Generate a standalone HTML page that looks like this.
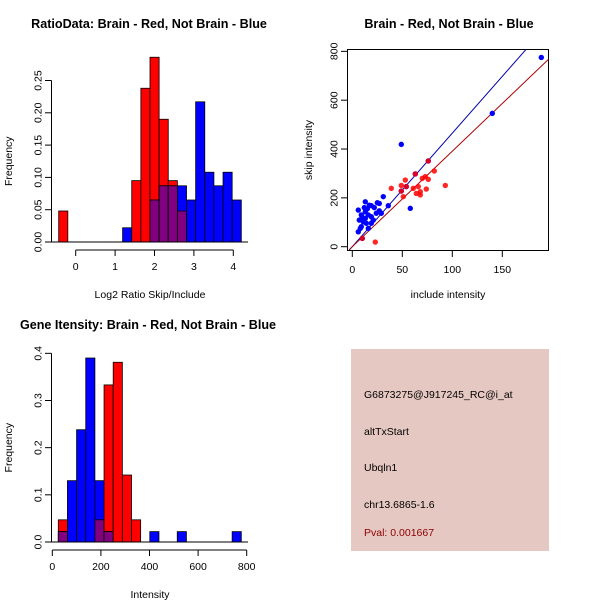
<!DOCTYPE html>
<html><head><meta charset="utf-8"><style>
body{margin:0;background:#fff}
svg{display:block;font-family:"Liberation Sans",Arial,sans-serif}
text{font-size:10.5px;fill:#000}
.t{font-weight:bold;font-size:12.6px}
</style></head><body>
<svg id="s" width="600" height="600">
<rect x="351" y="349" width="198" height="202" fill="#e6c8c2"/>
<text x="364" y="398">G6873275@J917245_RC@i_at</text>
<text x="364" y="435">altTxStart</text>
<text x="364" y="471">Ubqln1</text>
<text x="364" y="508">chr13.6865-1.6</text>
<text x="364" y="536" style="fill:#8b0000">Pval: 0.001667</text>
</svg>
<script>
// Panel 1 data: log2 ratio histogram
const ratioRed=[0.048,0,0,0,0,0,0,0,0.095,0.238,0.286,0.19,0.095,0.048,0,0,0,0,0,0];
const ratioBlue=[0,0,0,0,0,0,0,0.022,0,0,0.065,0.087,0.087,0.087,0.065,0.217,0.108,0.087,0.108,0.065];
const ratioXTicks=[0,1,2,3,4];
const ratioYTicks=["0.00","0.05","0.10","0.15","0.20","0.25"];
// Panel 2 data: scatter
const blueX=[189,140,49,58,76,63,54,49,10,13,31,27,36,19,6,9,13,16,19,24,27,29,7,11,14,16,6,8,19,9,13,21,12,15,17,10,22,25];
const blueY=[775,546,419,157,351,298,246,228,34,184,205,177,168,168,150,130,143,130,123,137,147,137,109,102,96,75,61,75,96,82,116,109,160,155,170,120,160,180];
const redX=[23,39,49,53,51,61,66,64,68,68,70,73,76,74,82,93,76,63,10,54,49];
const redY=[19,239,251,273,205,239,246,218,212,225,280,287,276,236,310,251,351,298,34,246,228];
const blueSlope=4.65, redSlope=3.91;
const scXTicks=[0,50,100,150], scYTicks=[0,200,400,600,800];
// Panel 3 data: intensity histogram
const intRed=[0.047,0,0,0,0.047,0.333,0.381,0.142,0.047,0,0,0,0,0,0,0,0,0,0,0];
const intBlue=[0.022,0.13,0.238,0.39,0.13,0.022,0,0,0,0,0.022,0,0,0.022,0,0,0,0,0,0.022];
const intXTicks=[0,200,400,600,800];
const intYTicks=["0.0","0.1","0.2","0.3","0.4"];

const s=document.getElementById('s');
const NS='http://www.w3.org/2000/svg';
function mk(tag,a,txt){const e=document.createElementNS(NS,tag);for(const k in a)e.setAttribute(k,a[k]);if(txt!==undefined)e.textContent=txt;s.appendChild(e);return e;}
function line(x1,y1,x2,y2,c,name){const e=mk('line',{x1,y1,x2,y2,stroke:c||'#000','stroke-width':1});

return e;}
function txt(x,y,t,name,extra){const e=mk('text',Object.assign({x,y,'text-anchor':'middle'},extra||{}),t);

return e;}

function hist(red,blue,x0,x1,sy,yTicks,yStep,xTicks,xs,axisY,title,titleX,titleY,xlab,xlabY,ylabX,pfx){
  const n=red.length,w=(x1-x0)/n;
  const yb=sy(0);
  for(let i=0;i<n;i++){
    const bx=x0+i*w;
    if(red[i]>0){const r=mk('rect',{x:bx,y:sy(red[i]),width:w,height:yb-sy(red[i]),fill:'#ff0000',stroke:'#000','stroke-width':0.8});
      
      }
    if(blue[i]>0){const r=mk('rect',{x:bx,y:sy(blue[i]),width:w,height:yb-sy(blue[i]),fill:'#0000ff',stroke:'#000','stroke-width':0.8});
      
      }
    const m=Math.min(red[i],blue[i]);
    if(m>0){const r=mk('rect',{x:bx,y:sy(m),width:w,height:yb-sy(m),fill:'#800080',stroke:'#000','stroke-width':0.8});
      
      }
  }
  line(51.5,yb,248,yb,'#000',pfx+'-baseline');
  const yv=yTicks.map((t,i)=>i*yStep);
  line(51.5,sy(0),51.5,sy(yv[yv.length-1]),'#000',pfx+'-y-axis');
  yTicks.forEach((t,i)=>{const y=sy(yv[i]);line(45,y,51.5,y,'#000',pfx+'-y-tick');
    txt(38,y,t,pfx+'-y-tick-label',{transform:`rotate(-90 38 ${y})`,dy:'0.35em'});});
  line(xs(xTicks[0]),axisY,xs(xTicks[xTicks.length-1]),axisY,'#000',pfx+'-x-axis');
  xTicks.forEach(t=>{const x=xs(t);line(x,axisY,x,axisY+6,'#000',pfx+'-x-tick');txt(x,axisY+20,String(t),pfx+'-x-tick-label');});
  txt(titleX,titleY,title,pfx+'-title',{class:'t'});
  txt(150,xlabY,xlab,pfx+'-x-title');
  const yc=(sy(0)+sy(yv[yv.length-1]))/2;
  txt(ylabX,yc,'Frequency',pfx+'-y-title',{transform:`rotate(-90 ${ylabX} ${yc})`});
}
hist(ratioRed,ratioBlue,58.7,241.3,v=>242-v*646,ratioYTicks,0.05,ratioXTicks,v=>75.7+v*39.4,250,
  'RatioData: Brain - Red, Not Brain - Blue',149,28,'Log2 Ratio Skip/Include',298,12,'ratio');
hist(intRed,intBlue,58.3,241.3,v=>542-v*471.7,intYTicks,0.1,intXTicks,v=>52.3+v*0.243,550,
  'Gene Itensity: Brain - Red, Not Brain - Blue',148,329,'Intensity',598,12,'intensity');

const px=v=>352.3+v*1.0, py=v=>246.7-v*0.2442;
const box=mk('rect',{x:347.5,y:49.5,width:201,height:201,fill:'none',stroke:'#000'});


const cp=mk('clipPath',{id:'cp'});
const cpr=document.createElementNS(NS,'rect');cp.appendChild(cpr);
cpr.setAttribute('x',347.5);cpr.setAttribute('y',49.5);cpr.setAttribute('width',201);cpr.setAttribute('height',201);
const bl=line(px(-3),py(-3*blueSlope),px(200),py(200*blueSlope),'#0000aa','blue-fit-line');bl.setAttribute('clip-path','url(#cp)');
const rl=line(px(-3),py(-3*redSlope),px(200),py(200*redSlope),'#aa0000','red-fit-line');rl.setAttribute('clip-path','url(#cp)');
blueX.forEach((x,i)=>{const c=mk('circle',{cx:px(x),cy:py(blueY[i]),r:2.7,fill:'#0000ff'});
  
  });
redX.forEach((x,i)=>{const c=mk('circle',{cx:px(x),cy:py(redY[i]),r:2.7,fill:'rgba(255,0,0,0.85)'});
  
  });
scXTicks.forEach(t=>{const x=px(t);line(x,250.5,x,257,'#000','scatter-x-tick');txt(x,273,String(t),'scatter-x-tick-label');});
scYTicks.forEach(t=>{const y=py(t);line(341,y,347.5,y,'#000','scatter-y-tick');
  txt(334,y,String(t),'scatter-y-tick-label',{transform:`rotate(-90 334 ${y})`,dy:'0.35em'});});
txt(449,28,'Brain - Red, Not Brain - Blue','scatter-title',{class:'t'});
txt(448,298,'include intensity','scatter-x-title');
txt(312,150,'skip intensity','scatter-y-title',{transform:'rotate(-90 312 150)'});
</script>
</body></html>
